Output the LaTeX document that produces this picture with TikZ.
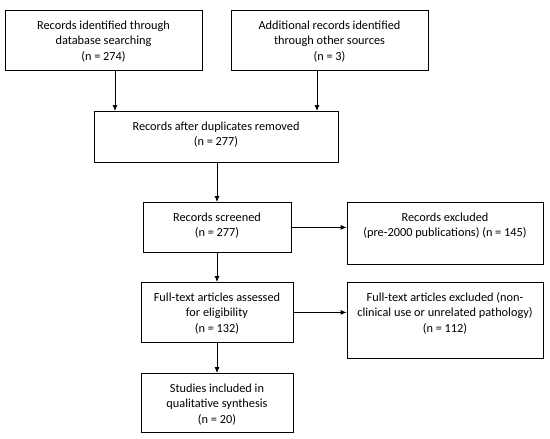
\documentclass[tikz,border=0pt]{standalone}
\usepackage{fontspec}
\setmainfont{Carlito}
\usetikzlibrary{arrows.meta}
\tikzset{
  flowbox/.style={draw, line width=0.8pt, align=center, inner xsep=3pt, inner ysep=0pt,
    anchor=north, font=\fontsize{12.3}{15.3}\selectfont},
  threeline/.style={text height=49.6pt},
  twoline/.style={text height=34.3pt},
  arr/.style={line width=0.8pt, -{Latex[length=6pt,width=5pt]}}
}
\begin{document}
\begin{tikzpicture}[x=1pt,y=-1pt]
\useasboundingbox (0,0) rectangle (550,439);
\node[flowbox, threeline, minimum width=197pt, text depth=10.4pt] (b1) at (103.5,10)
  {Records identified through\\database searching\\(n = 274)};
\node[flowbox, threeline, minimum width=197pt, text depth=10.4pt] (b2) at (329.5,10)
  {Additional records identified\\through other sources\\(n = 3)};
\node[flowbox, twoline, minimum width=244pt, text depth=16.7pt] (b3) at (216,111)
  {Records after duplicates removed\\(n = 277)};
\node[flowbox, twoline, minimum width=148pt, text depth=15.7pt] (b4) at (217,202)
  {Records screened\\(n = 277)};
\node[flowbox, twoline, minimum width=196pt, text depth=27.7pt] (e1) at (445,202)
  {Records excluded\\(pre-2000 publications) (n = 145)};
\node[flowbox, threeline, minimum width=152pt, text depth=10.4pt] (b5) at (217,282)
  {Full-text articles assessed\\for eligibility\\(n = 132)};
\node[flowbox, threeline, minimum width=196pt, text depth=26.4pt] (e2) at (445,282)
  {Full-text articles excluded (non-\\clinical use or unrelated pathology)\\(n = 112)};
\node[flowbox, threeline, minimum width=152pt, text depth=9.4pt] (b6) at (217,373)
  {Studies included in\\qualitative synthesis\\(n = 20)};
\draw[arr] ([xshift=11.5pt]b1.south) -- ([xshift=11.5pt]b1.south |- b3.north);
\draw[arr] ([xshift=-12.5pt]b2.south) -- ([xshift=-12.5pt]b2.south |- b3.north);
\draw[arr] (b3.south -| b4.north) -- (b4.north);
\draw[arr] (b4.south) -- (b5.north);
\draw[arr] (b5.south) -- (b6.north);
\draw[arr] (b4.east) -- (b4.east -| e1.west);
\draw[arr] (b5.east) -- (b5.east -| e2.west);
\end{tikzpicture}
\end{document}
